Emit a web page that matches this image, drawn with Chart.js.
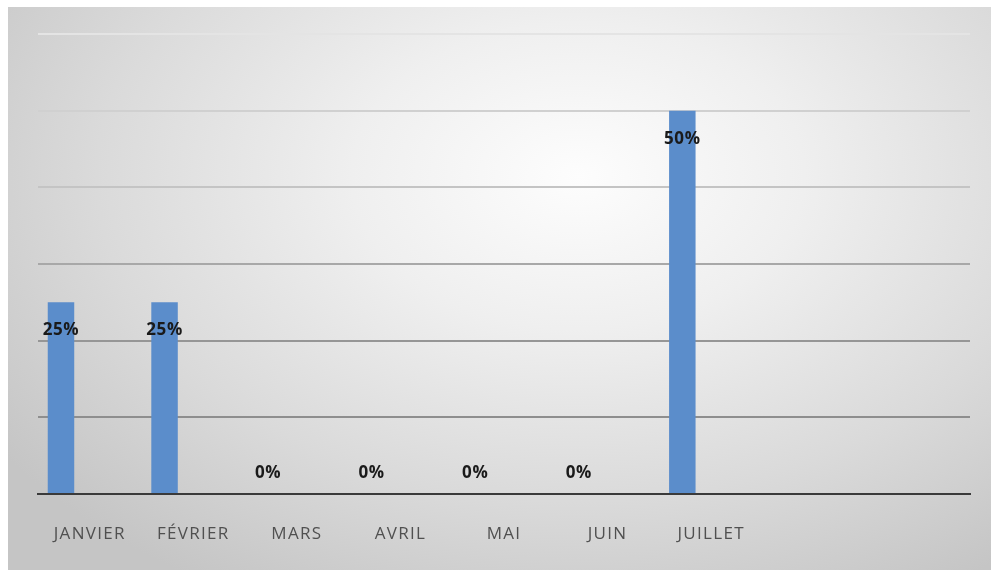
<!DOCTYPE html>
<html lang="fr">
<head>
<meta charset="utf-8">
<title>Répartition mensuelle</title>
<script src="https://cdn.jsdelivr.net/npm/chart.js@4.4.1/dist/chart.umd.min.js"></script>
<style>
  html, body { margin: 0; padding: 0; background: #ffffff; }
  #wrap { position: relative; width: 991px; height: 570px; }
  #panel {
    position: absolute; left: 8px; top: 7px; right: 0; bottom: 0;
    background: radial-gradient(ellipse 72% 85% at 58% 30%, #fdfdfd 0%, #efefef 32%, #dadada 68%, #c5c5c5 100%);
  }
  canvas { position: absolute; left: 0; top: 0; }
</style>
</head>
<body>
<div id="wrap">
  <div id="panel"></div>
  <canvas id="chart" width="991" height="570"></canvas>
</div>
<script>
// Months shown on the axis (two trailing empty slots keep the plot width)
const categories = ['JANVIER', 'FÉVRIER', 'MARS', 'AVRIL', 'MAI', 'JUIN', 'JUILLET', '', ''];
// Share per month, in percent
const shareValues = [25, 25, 0, 0, 0, 0, 50, null, null];
// Companion series of the same table, left empty
const emptySeriesA = [];
const emptySeriesB = [];
// Value-axis range and gridline step (percent)
const yMax = 60;
const yStep = 10;

const gridColours = { 10: '#8e8e8e', 20: '#969696', 30: '#a8a8a8', 40: '#c4c4c4', 50: '#d0d0d0', 60: '#e4e4e4' };

// Slightly spaced lettering for all canvas text
const spacing = {
  id: 'spacing',
  beforeDraw(chart) { chart.ctx.letterSpacing = '1.3px'; }
};

const valueLabels = {
  id: 'valueLabels',
  afterDatasetsDraw(chart) {
    const ctx = chart.ctx;
    const meta = chart.getDatasetMeta(0);
    const yScale = chart.scales.y;
    ctx.save();
    ctx.letterSpacing = '0.6px';
    ctx.font = 'bold 17px "Open Sans", sans-serif';
    ctx.fillStyle = '#1a1a1a';
    ctx.textAlign = 'center';
    ctx.textBaseline = 'middle';
    meta.data.forEach((bar, i) => {
      const v = shareValues[i];
      if (v === null || v === undefined) return;
      const top = yScale.getPixelForValue(v);
      const base = yScale.getPixelForValue(0);
      const y = v > 0 ? top + 28 : base - 21;
      ctx.fillText(v + '%', bar.x, y);
    });
    ctx.restore();
  }
};

new Chart(document.getElementById('chart'), {
  type: 'bar',
  data: {
    labels: categories,
    datasets: [
      { label: 'Part', data: shareValues, backgroundColor: '#5b8dcb' },
      { label: 'Série 2', data: emptySeriesA, backgroundColor: '#ed7d31' },
      { label: 'Série 3', data: emptySeriesB, backgroundColor: '#a5a5a5' }
    ]
  },
  options: {
    responsive: false,
    animation: false,
    devicePixelRatio: 1,
    categoryPercentage: 0.834,
    barPercentage: 0.92,
    layout: { padding: { left: 38, right: 21, top: 34, bottom: 0 } },
    plugins: {
      legend: { display: false },
      tooltip: { enabled: false }
    },
    scales: {
      x: {
        afterFit(scale) { scale.height = 76; },
        grid: { display: false, drawTicks: false },
        border: { display: true, color: '#3a3a3a', width: 2 },
        ticks: {
          color: '#505050',
          padding: 30,
          maxRotation: 0,
          autoSkip: false,
          font: { family: '"Open Sans", sans-serif', size: 17 }
        }
      },
      y: {
        min: 0,
        max: yMax,
        afterFit(scale) { scale.width = 0; },
        ticks: { display: false, stepSize: yStep },
        border: { display: false },
        grid: {
          drawTicks: false,
          lineWidth: 2,
          color: (c) => c.tick && c.tick.value > 0 ? gridColours[c.tick.value] : 'rgba(0,0,0,0)'
        }
      }
    }
  },
  plugins: [spacing, valueLabels]
});
</script>
</body>
</html>
